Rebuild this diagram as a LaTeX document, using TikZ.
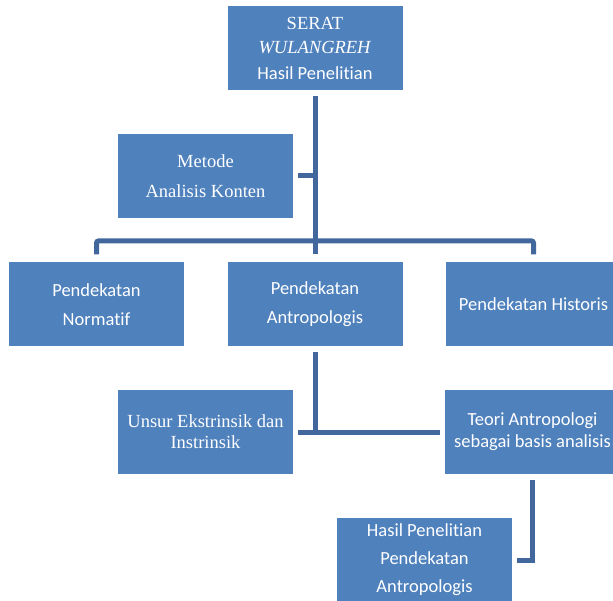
\documentclass[tikz,border=0pt]{standalone}
\usepackage{fontspec}
\setmainfont{Liberation Serif}
\newfontfamily\calfont[Ligatures={NoCommon}]{Carlito}
\definecolor{boxblue}{HTML}{4F81BD}
\definecolor{lineblue}{HTML}{41679C}
\tikzset{
  box/.style={fill=boxblue, draw=none, text=white, minimum width=175pt, minimum height=84pt, inner sep=0pt, align=center, anchor=center},
  sansbox/.style={box, font={\calfont\fontsize{18.5}{#1}\selectfont}},
  serifbox/.style={box, font={\fontsize{18.5}{#1}\selectfont}},
  conn/.style={draw=lineblue, line width=5pt, line cap=butt, line join=miter}
}
\begin{document}
\begin{tikzpicture}[x=1pt,y=-1pt]
\useasboundingbox (0,0) rectangle (613,601);
\clip (0,0) rectangle (613,601);
\node[serifbox=24] (top) at (315,48) {SERAT\\\textit{WULANGREH}\\[2pt]{\calfont Hasil Penelitian}};
\node[serifbox=30] (metode) at (205.5,176) {Metode\\Analisis Konten};
\node[sansbox=29] (norm) at (96.5,304.5) {Pendekatan\\Normatif};
\node[sansbox=29] (antro) at (315,304.5) {Pendekatan\\Antropologis};
\node[sansbox=29] (hist) at (533.5,304.5) {Pendekatan Historis};
\node[serifbox=21] (unsur) at (205.5,432) {Unsur Ekstrinsik dan\\Instrinsik};
\node[sansbox=22] (teori) at (532.5,432) {Teori Antropologi\\sebagai basis analisis};
\node[sansbox=28] (hasil) at (424.5,560) {Hasil Penelitian\\Pendekatan\\Antropologis};
% connectors
\coordinate (bus) at (315,241);
\draw[conn] ([yshift=-6pt]top.south) -- ([yshift=8pt]antro.north);
\draw[conn] ([xshift=5pt]metode.east) -- (metode.east -| top.south);
\draw[conn, rounded corners=2pt] ([yshift=8pt]norm.north) -- (norm.north |- bus) -- (hist.north |- bus) -- ([yshift=8pt]hist.north);
\draw[conn] ([yshift=-5pt]antro.south) -- (antro.south |- unsur.east);
\draw[conn] ([xshift=5pt]unsur.east) -- ([xshift=-5pt]teori.west);
\draw[conn] ([yshift=-6pt]teori.south) -- (teori.south |- hasil.east) -- ([xshift=5pt]hasil.east);
\end{tikzpicture}
\end{document}
